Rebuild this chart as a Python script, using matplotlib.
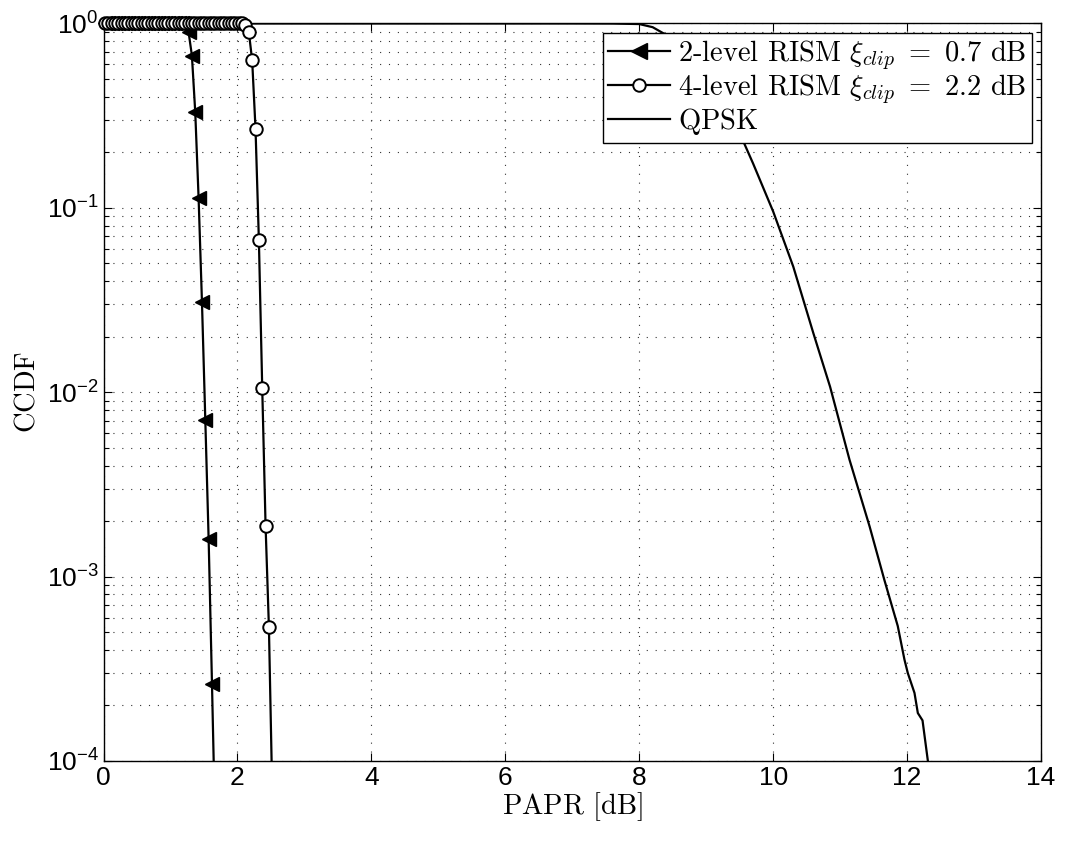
import matplotlib
matplotlib.use("Agg")
import matplotlib.pyplot as plt
from matplotlib.lines import Line2D
from matplotlib.ticker import LogLocator, NullFormatter

plt.rcParams['font.family'] = ['Liberation Sans', 'DejaVu Sans']
plt.rcParams['mathtext.fontset'] = 'cm'

# ---------------- data ----------------
papr_2lvl = [0.02, 0.07, 0.12, 0.17, 0.22, 0.27, 0.32, 0.37, 0.42, 0.47,
             0.52, 0.57, 0.62, 0.67, 0.72, 0.77, 0.82, 0.87, 0.92, 0.97,
             1.02, 1.07, 1.12, 1.17, 1.22, 1.27, 1.32, 1.37, 1.42, 1.47,
             1.52, 1.57, 1.62, 1.67]
ccdf_2lvl = [1.0, 1.0, 1.0, 1.0, 1.0, 1.0, 1.0, 1.0, 1.0, 1.0,
             1.0, 1.0, 1.0, 1.0, 1.0, 1.0, 1.0, 1.0, 1.0, 1.0,
             1.0, 1.0, 1.0, 1.0, 0.98, 0.90, 0.67, 0.33, 0.113, 0.031,
             0.0071, 0.00159, 0.00026, 3.9e-5]

papr_4lvl = [0.02, 0.07, 0.12, 0.17, 0.22, 0.27, 0.32, 0.37, 0.42, 0.47,
             0.52, 0.57, 0.62, 0.67, 0.72, 0.77, 0.82, 0.87, 0.92, 0.97,
             1.02, 1.07, 1.12, 1.17, 1.22, 1.27, 1.32, 1.37, 1.42, 1.47,
             1.52, 1.57, 1.62, 1.67, 1.72, 1.77, 1.82, 1.87, 1.92, 1.97,
             2.02, 2.07, 2.12, 2.17, 2.22, 2.27, 2.32, 2.37, 2.42, 2.47,
             2.52]
ccdf_4lvl = [1.0, 1.0, 1.0, 1.0, 1.0, 1.0, 1.0, 1.0, 1.0, 1.0,
             1.0, 1.0, 1.0, 1.0, 1.0, 1.0, 1.0, 1.0, 1.0, 1.0,
             1.0, 1.0, 1.0, 1.0, 1.0, 1.0, 1.0, 1.0, 1.0, 1.0,
             1.0, 1.0, 1.0, 1.0, 1.0, 1.0, 1.0, 1.0, 1.0, 1.0,
             1.0, 1.0, 0.98, 0.90, 0.63, 0.268, 0.067, 0.0106, 0.00189, 0.00053,
             6.6e-5]

papr_qpsk = [0.0, 7.0, 7.6, 8.0, 8.2, 8.36, 8.6, 8.8, 9.0, 9.2,
             9.4, 9.5, 9.7, 10.0, 10.3, 10.6, 10.85, 11.14, 11.44, 11.66,
             11.86, 11.96, 12.01, 12.11, 12.16, 12.23, 12.31, 12.4]
ccdf_qpsk = [1.0, 1.0, 0.999, 0.993, 0.955, 0.885, 0.76, 0.63, 0.51, 0.40,
             0.30, 0.254, 0.174, 0.0955, 0.048, 0.0209, 0.0107, 0.0043, 0.00187, 0.00096,
             0.00054, 0.000355, 0.0003, 0.000234, 0.000182, 0.000166, 0.0001, 5.0e-5]

labels = [r"$\text{2-level RISM }\xi_{clip}\ =\ 0.7\text{ dB}$",
          r"$\text{4-level RISM }\xi_{clip}\ =\ 2.2\text{ dB}$",
          r"$\text{QPSK}$"]

# ---------------- figure ----------------
fig = plt.figure(figsize=(10.66, 8.42), dpi=100)
ax = fig.add_axes([0.0971, 0.0962, 0.8795, 0.8759])

lw = 1.6
ax.plot(papr_qpsk, ccdf_qpsk, color='k', lw=lw, zorder=3)
ax.plot(papr_2lvl, ccdf_2lvl, color='k', lw=lw, zorder=3)
ax.plot(papr_4lvl, ccdf_4lvl, color='k', lw=lw, zorder=3)
# markers (not clipped, like MATLAB)
ax.plot(papr_2lvl[:-1], ccdf_2lvl[:-1], ls='none', marker='<', ms=10,
        mfc='k', mec='k', clip_on=False, zorder=4)
ax.plot(papr_4lvl[:-1], ccdf_4lvl[:-1], ls='none', marker='o', ms=9,
        mfc='white', mec='k', mew=1.4, clip_on=False, zorder=5)

ax.set_yscale('log')
ax.set_xlim(0, 14)
ax.set_ylim(1e-4, 1)
ax.set_xticks([0, 2, 4, 6, 8, 10, 12, 14])
ax.yaxis.set_major_locator(LogLocator(base=10, numticks=10))
ax.yaxis.set_minor_locator(LogLocator(base=10, subs=range(2, 10), numticks=20))
ax.yaxis.set_minor_formatter(NullFormatter())

grid_ls = (0, (1, 7))
ax.grid(True, which='major', axis='both', color='0.2', ls=grid_ls, lw=0.8)
ax.grid(True, which='minor', axis='y', color='0.2', ls=grid_ls, lw=0.8)
ax.set_axisbelow(True)

ax.tick_params(which='both', direction='in', top=True, right=True,
               labelsize=19, width=0.8, colors='k')
ax.tick_params(which='major', length=6)
ax.tick_params(which='minor', length=3.5)
for s in ax.spines.values():
    s.set_linewidth(1.0)

ax.set_xlabel(r"$\text{PAPR [dB]}$", fontsize=20.5, labelpad=0)
ax.set_ylabel(r"$\text{CCDF}$", fontsize=20.5, labelpad=4)

handles = [
    Line2D([], [], color='k', lw=lw, marker='<', ms=12, mfc='k', mec='k'),
    Line2D([], [], color='k', lw=lw, marker='o', ms=9, mfc='white', mec='k', mew=1.4),
    Line2D([], [], color='k', lw=lw),
]
leg = ax.legend(handles, labels, loc='upper right', fontsize=20.5,
                frameon=True, fancybox=False, edgecolor='k', framealpha=1,
                handlelength=2.15, handletextpad=0.28, borderpad=0.2,
                labelspacing=0.0, borderaxespad=0.33)
leg.get_frame().set_linewidth(1.0)
leg.set_zorder(10)

fig.savefig("out.png", dpi=100)
